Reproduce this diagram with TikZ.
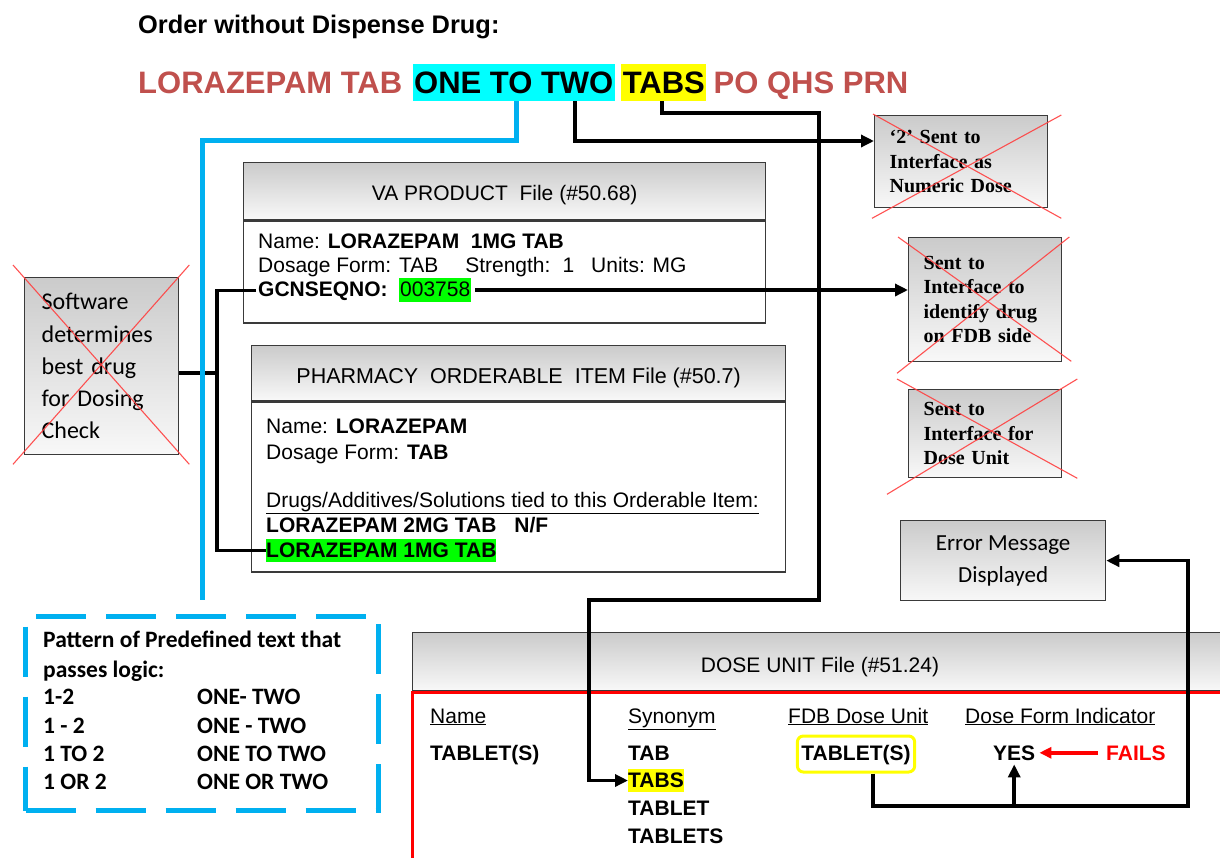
\documentclass[tikz,border=0pt]{standalone}
\usepackage{fontspec}
\setmainfont{Liberation Sans}
\newfontfamily\calfont{Carlito}
\newfontfamily\serfont{Liberation Serif}
\usetikzlibrary{arrows.meta,calc}
\newcommand\fsz[2]{\fontsize{#1}{#2}\selectfont}

\definecolor{brick}{HTML}{C0504D}
\definecolor{hlcyan}{HTML}{00FFFF}
\definecolor{hlyellow}{HTML}{FFFF00}
\definecolor{hlgreen}{HTML}{00FF00}
\definecolor{sky}{HTML}{00B0F0}
\definecolor{xred}{HTML}{FF4040}
\definecolor{framec}{HTML}{3A3A3A}
\definecolor{shtop}{HTML}{CBCBCB}
\definecolor{shbot}{HTML}{F8F8F8}
\definecolor{failred}{HTML}{FF0000}

\tikzset{
  gbox/.style={draw=framec, line width=1.3pt, top color=shtop, bottom color=shbot,
    anchor=north west, inner sep=0pt},
  wbox/.style={draw=framec, line width=1.3pt, fill=white, anchor=north west, inner sep=0pt},
  xmark/.style={draw=xred, line width=1.1pt, opacity=0.9},
  conn/.style={line width=3.5pt, black},
  arr/.style={conn, -{Triangle[length=13pt,width=12pt]}},
  bline/.style={line width=5pt, sky},
  btxt/.style={anchor=base west, inner sep=0pt, font=\fsz{21}{25}},
  bbold/.style={anchor=base west, inner sep=0pt, font=\bfseries\fsz{21}{25}},
  ptxt/.style={anchor=base west, inner sep=0pt, font=\calfont\bfseries\fsz{23.5}{28}},
  lnfont/.style={font=\bfseries\fsz{31}{36}},
  hl/.style={lnfont, anchor=base west, inner xsep=1.5pt, inner ysep=6pt,
    text height=23pt, text depth=2pt, text=black},
  sbox/.style={gbox, align=left, font=\serfont\bfseries\fsz{20}{24.5}}
}

\begin{document}
\begin{tikzpicture}[x=1pt,y=-1pt]
\useasboundingbox (0,0) rectangle (1220,857);
\fill[white] (0,0) rectangle (1220,857);

% heading and order text
\node[anchor=base west, inner sep=0pt, font=\bfseries\fsz{25.4}{30}] (ttl) at (138,33)
  {Order without Dispense Drug:};
\node[lnfont, anchor=base west, inner sep=0pt, text=brick] (w1) at (138,93) {LORAZEPAM TAB};
\node[hl, fill=hlcyan] (w2) at ([xshift=10pt]w1.base east) {ONE TO TWO};
\node[hl, fill=hlyellow] (w3) at ([xshift=6pt]w2.base east) {TABS};
\node[lnfont, anchor=base west, inner sep=0pt, text=brick] (w4) at ([xshift=7pt]w3.base east) {PO QHS PRN};

% interface boxes on the right
\node[sbox, minimum width=173pt, minimum height=92pt, text width=143pt, inner xsep=15pt] (b1)
  at (874,115) {‘2’ Sent to\\Interface as\\Numeric Dose};
\node[sbox, minimum width=153pt, minimum height=124pt, text width=123pt, inner xsep=15pt] (b2)
  at (908,237) {Sent to\\Interface to\\identify drug\\on FDB side};
\node[sbox, minimum width=153pt, minimum height=88pt, text width=123pt, inner xsep=15pt] (b3)
  at (908,389) {Sent to\\Interface for\\Dose Unit};

% VA PRODUCT file
\node[gbox, minimum width=522pt, minimum height=57pt] (vah) at (243,162) {};
\node[wbox, minimum width=522pt, minimum height=102pt] (vab) at (vah.south west) {};
\node[font=\fsz{21}{25}] (vat) at ([yshift=-4pt]vah.center) {VA PRODUCT\ \ File (\#50.68)};
\node[btxt] (va1) at (258,248) {Name: \textbf{LORAZEPAM\ \ 1MG TAB}};
\node[btxt] (va2) at (258,272) {Dosage Form: TAB\hspace{27pt}Strength:\hspace{12pt}1\hspace{17pt}Units: MG};
\node[bbold, inner xsep=2pt] (gcn) at (256,296) {GCNSEQNO:};
\node[btxt, fill=hlgreen, inner xsep=1pt, inner ysep=3pt, text height=15pt, text depth=3pt]
  (g58) at (399,296) {003758};

% PHARMACY ORDERABLE ITEM file
\node[gbox, minimum width=534pt, minimum height=55pt] (poh) at (251,345) {};
\node[wbox, minimum width=534pt, minimum height=170pt] (pob) at (poh.south west) {};
\node[font=\fsz{21.5}{25}] (pot) at ([yshift=-5pt]poh.center) {PHARMACY\ \ ORDERABLE\ \ ITEM File (\#50.7)};
\node[btxt] (po1) at (266,433) {Name: \textbf{LORAZEPAM}};
\node[btxt] (po2) at (266,459) {Dosage Form: \textbf{TAB}};
\node[btxt] (po3) at (266,507) {\underline{Drugs/Additives/Solutions tied to this Orderable Item:}};
\node[bbold] (lz2) at (266,532) {LORAZEPAM 2MG TAB\hspace{18pt}N/F};
\node[bbold, fill=hlgreen, inner ysep=2pt, text height=16pt, text depth=3pt] (lz1) at (266,557)
  {LORAZEPAM 1MG TAB};

% software decision box
\node[gbox, minimum width=154pt, minimum height=177pt, text width=120pt, inner xsep=17pt,
  align=left, font=\calfont\fsz{24}{32.3}] (sw) at (24,277)
  {Software\\determines\\best drug\\for Dosing\\Check};

% error message box
\node[gbox, minimum width=205pt, minimum height=80pt, align=center,
  font=\calfont\fsz{23}{32}] (err) at (900,520) {Error Message\\Displayed};

% predefined text patterns
\node[draw=sky, line width=5pt, dash pattern=on 50pt off 20pt, anchor=north west,
  minimum width=353pt, minimum height=194pt, inner sep=0pt] (pat) at (23,614) {};
\node[ptxt] (p1) at (43,647) {Pattern of Predefined text that};
\node[ptxt] (p2) at (43,677) {passes logic:};
\foreach \yy/\aa/\bb/\nn in {704/1-2/ONE- TWO/r1, 733/1 - 2/ONE - TWO/r2,
    761/1 TO 2/ONE TO TWO/r3, 789/1 OR 2/ONE OR TWO/r4}{
  \node[ptxt] (\nn-a) at (43,\yy) {\aa};
  \node[ptxt] (\nn-b) at (197,\yy) {\bb};
}

% DOSE UNIT file
\node[gbox, minimum width=830pt, minimum height=58pt] (duh) at (412,632) {};
\node[anchor=north west, draw=failred, line width=3pt, minimum width=830pt, minimum height=220pt,
  inner sep=0pt] (dub) at (411,691) {};
\node[font=\fsz{21}{25}] (dut) at (820,667) {DOSE UNIT File (\#51.24)};
\node[btxt] (c1) at (430,723) {\underline{Name}};
\node[btxt] (c2) at (628,723) {\underline{Synonym}};
\node[btxt] (c3) at (788,723) {\underline{FDB Dose Unit}};
\node[btxt] (c4) at (965,723) {\underline{Dose Form Indicator}};
\node[bbold] (nm) at (430,760) {TABLET(S)};
\node[bbold] (syn1) at (628,760) {TAB};
\node[bbold, fill=hlyellow, inner ysep=2pt, text height=16pt, text depth=3pt] (syn2) at (628,787) {TABS};
\node[bbold] (syn3) at (628,815) {TABLET};
\node[bbold] (syn4) at (628,843) {TABLETS};
\node[anchor=base, draw=hlyellow, line width=3pt, rounded corners=6pt, inner xsep=4pt,
  inner ysep=7pt, text height=17pt, text depth=5pt, font=\bfseries\fsz{21}{25}] (fdb)
  at (856,760) {TABLET(S)};
\node[bbold, inner ysep=4pt] (yes) at (993,760) {YES};
\node[anchor=base west, inner sep=0pt, text=failred, font=\bfseries\fsz{21}{25}] (fails)
  at (1106,760) {FAILS};

% crossed-out marks
\draw[xmark] ([xshift=-1pt,yshift=1pt]b1.north west) -- ([xshift=13pt,yshift=-10pt]b1.south east);
\draw[xmark] ([xshift=-2pt,yshift=-10pt]b1.south west) -- ([xshift=13pt]b1.north east);
\draw[xmark] ([xshift=-10pt]b2.north west) -- ([xshift=9pt,yshift=1pt]b2.south east);
\draw[xmark] ([xshift=-11pt,yshift=-11pt]b2.south west) -- ([xshift=7pt]b2.north east);
\draw[xmark] ([xshift=-11pt,yshift=10pt]b3.north west) -- ([xshift=15pt]b3.south east);
\draw[xmark] ([xshift=-21pt,yshift=-16pt]b3.south west) -- ([xshift=15pt,yshift=10pt]b3.north east);
\draw[xmark] ([xshift=-11pt,yshift=12pt]sw.north west) -- ([xshift=10pt,yshift=-9pt]sw.south east);
\draw[xmark] ([xshift=-11pt,yshift=-9pt]sw.south west) -- ([xshift=10pt,yshift=12pt]sw.north east);

% connectors
\coordinate (jn) at (217,373);
\coordinate (k1) at (0,141);
\coordinate (lp) at (1188,806);
\draw[conn] (gcn.west) -| (jn) |- (lz1.west);
\draw[conn] (sw.east |- jn) -- (jn);
\draw[bline] ([xshift=3pt]w2.south) -- ++(0,39) -| ([yshift=14pt]pat.north);
\draw[arr] ([xshift=61pt]w2.south) |- (b1.west |- k1);
\draw[arr] ([xshift=-2pt]w3.south) -- ++(0,12) -| ++(157,487) -- ++(-230,0) |- (syn2.west);
\draw[arr, shorten <=4pt] (g58.east) -- (b2.west |- g58.east);
\draw[arr] ([xshift=17pt]fdb.south) |- (lp) |- (err.east);
\draw[arr] (yes.south |- lp) -- (yes.south);
\draw[line width=3.5pt, failred, -{Triangle[length=12pt,width=11pt]}, shorten <=8pt, shorten >=4pt]
  (fails.west) -- (yes.east);
\end{tikzpicture}
\end{document}
